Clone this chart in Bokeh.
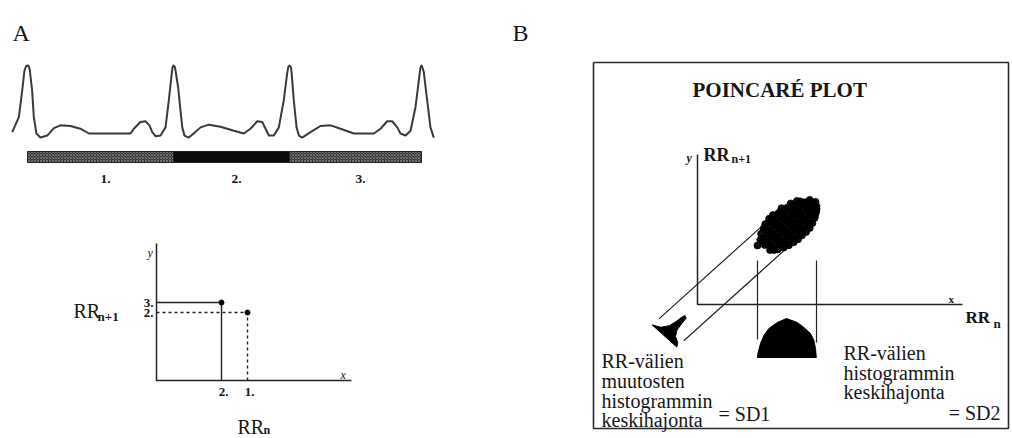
import math
from bokeh.plotting import figure
from bokeh.models import Range1d
from bokeh.core.properties import value
from bokeh.embed import file_html
from bokeh.resources import INLINE

# ------------------------------------------------------------------ data
# Panel A: ECG trace (time in ms from first R peak, amplitude in mV)
ecg_t_ms = [-92, -52, -32, -18, -8, 0, 8, 14, 28, 38, 54, 78, 119, 159, 199, 259, 319, 370,
            621, 641, 681, 711, 735, 752, 772, 802, 832, 852, 868, 874, 880,
            888, 892, 908, 922, 933, 946, 972, 1002, 1043, 1093, 1163, 1244, 1304,
            1344, 1385, 1415, 1435, 1455, 1485, 1515, 1545, 1565, 1572, 1580,
            1588, 1592, 1605, 1622, 1636, 1656, 1706, 1766, 1827, 1887, 1967, 2088,
            2128, 2168, 2198, 2229, 2248, 2279, 2309, 2339, 2359, 2368, 2375,
            2382, 2389, 2409, 2429, 2449]
ecg_mv = [0.02, 0.24, 0.63, 0.93, 0.99, 1.0, 0.99, 0.93, 0.63, 0.24, 0.0, -0.06, -0.03, 0.08, 0.12, 0.11, 0.07, 0.0,
          0.0, 0.07, 0.17, 0.18, 0.12, 0.02, -0.04, -0.03, 0.09, 0.49, 0.85, 0.97, 1.0,
          0.98, 0.93, 0.68, 0.34, 0.09, -0.03, -0.06, 0.0, 0.09, 0.13, 0.10, 0.04, 0.0,
          0.07, 0.18, 0.17, 0.07, -0.03, -0.03, 0.09, 0.49, 0.88, 0.98, 1.0,
          0.97, 0.90, 0.49, 0.09, -0.03, -0.06, 0.02, 0.11, 0.12, 0.07, 0.0, 0.0,
          0.07, 0.18, 0.18, 0.09, 0.0, -0.03, 0.04, 0.39, 0.78, 0.96, 1.0,
          0.96, 0.90, 0.49, 0.09, -0.06]
r_peaks_ms = [0, 880, 1580, 2375]
interval_labels = ["1.", "2.", "3."]

# Panel B: Poincaré cloud (RR_n, RR_n+1) in ms
cloud_rr_n = [700, 763, 736, 714, 801, 776, 758, 735, 718, 831, 809, 793, 770, 752, 731,
              857, 836, 820, 797, 779, 761, 739, 881, 860, 845, 823, 805, 789, 767, 758,
              903, 882, 868, 846, 829, 812, 791, 777, 922, 911, 897, 876, 859, 842, 820, 804,
              943, 922, 908, 886, 869, 852, 831, 820, 961, 940, 925, 903, 886, 869, 848,
              974, 954, 939, 917, 900, 884, 866, 986, 965, 950, 928, 912, 897,
              993, 972, 958, 936, 995, 973, 961, 990,
              883, 864, 846, 828, 809, 790, 772,
              923, 904, 886, 868, 849, 830, 812,
              958, 939, 921, 902, 883, 864,
              988, 969, 951, 932, 913,
              836, 816, 796, 776, 756, 736,
              783, 763, 743, 723,
              995, 976, 956]
cloud_rr_n1 = [738, 713, 741, 769, 716, 736, 761, 780, 803, 726, 744, 768, 785, 807, 831,
               739, 756, 780, 797, 819, 841, 857, 756, 772, 795, 811, 833, 854, 869, 886,
               773, 790, 813, 828, 849, 870, 886, 907, 794, 801, 823, 839, 859, 880, 895, 916,
               813, 830, 853, 868, 889, 910, 926, 945, 835, 852, 875, 891, 912, 933, 948,
               862, 879, 901, 917, 938, 959, 971, 891, 907, 930, 946, 967, 985,
               923, 940, 963, 978, 955, 973, 991, 980,
               773, 792, 810, 828, 847, 866, 884,
               813, 832, 850, 868, 887, 905, 924,
               858, 877, 896, 914, 933, 952,
               908, 927, 946, 964, 983,
               741, 760, 780, 800, 820, 840,
               713, 733, 753, 773,
               941, 960, 980]
# SD1 histogram (differences RR_n+1 - RR_n, ms) and SD2 histogram (RR_n, ms)
sd1_delta_ms = [123, 67, 33, 22, 19, 12, -9, -17, -29, -58, -103, -123]
sd1_count = [0, 4, 11, 19, 25, 29, 28, 21, 13, 7, 4, 0]
sd2_rr_ms = [700, 702, 715, 732, 757, 799, 845, 899, 932, 965, 982, 990, 994]
sd2_count = [0, 4, 14, 22, 29, 35, 39, 35, 30, 24, 17, 9, 0]

left_text = ["RR-välien", "muutosten", "histogrammin", "keskihajonta"]
right_text = ["RR-välien", "histogrammin", "keskihajonta"]

# ------------------------------------------------------------------ layout
W, H = 1012, 438
X0, Y0 = 0, 0
INK = "#161616"
SERIF = value("Liberation Serif")


class Lin:
    def __init__(self, d0, p0, d1, p1):
        self.d0, self.p0 = d0, p0
        self.k = (p1 - p0) / (d1 - d0)

    def fwd(self, d):
        return self.p0 + self.k * (d - self.d0)

    def inv(self, px):
        return self.d0 + (px - self.p0) / self.k


def xr(m):
    return Range1d(start=m.inv(X0), end=m.inv(X0 + W))


def yr(m):
    return Range1d(start=m.inv(Y0 + H), end=m.inv(Y0))


ecg_x = Lin(0, 27, 2375, 421)
ecg_y = Lin(0, 133, 1, 65)
pa_x = Lin(700, 221, 880, 247)
pa_y = Lin(700, 312, 795, 302)
pb_x = Lin(400, 697, 1000, 817)
pb_y = Lin(0, 377.8, 1000, 197.8)
hist_y = Lin(0, 357, 39, 318)

p = figure(width=W, height=H, x_range=Range1d(X0, X0 + W), y_range=Range1d(Y0 + H, Y0),
           output_backend="svg", toolbar_location=None, min_border=0,
           x_axis_location=None, y_axis_location=None)
p.outline_line_color = None
p.xgrid.visible = False
p.ygrid.visible = False
p.background_fill_color = "white"
p.border_fill_color = "white"
p.extra_x_ranges = {"ecg": xr(ecg_x), "pa": xr(pa_x), "pb": xr(pb_x)}
p.extra_y_ranges = {"ecg": yr(ecg_y), "pa": yr(pa_y), "pb": yr(pb_y), "hist": yr(hist_y)}


def txt(x, y, s, size, style="normal", align="left", baseline="alphabetic",
        xrn="default", yrn="default", x_offset=0, color=INK):
    p.text(x=[x], y=[y], text=[s], text_font=SERIF, text_font_size=value(f"{size}px"),
           text_font_style=style, text_align=align, text_baseline=baseline,
           text_color=color, x_offset=x_offset, x_range_name=xrn, y_range_name=yrn)


# ------------------------------------------------------------------ panel labels
txt(12, 32, "A", 24)
txt(512, 32, "B", 24)

# ------------------------------------------------------------------ ECG
p.line(x=ecg_t_ms, y=ecg_mv, x_range_name="ecg", y_range_name="ecg",
       line_color="#3a3a3a", line_width=2, line_join="round")
rr = [r_peaks_ms[i + 1] - r_peaks_ms[i] for i in range(len(r_peaks_ms) - 1)]
lefts, rights = r_peaks_ms[:-1], r_peaks_ms[1:]
for i in range(len(rr)):
    dark = (i == 1)
    p.quad(left=[lefts[i]], right=[rights[i]], top=[151], bottom=[162], x_range_name="ecg",
           fill_color="#0c0c0c" if dark else "#333333",
           hatch_pattern=" " if dark else "x", hatch_color="#8a8a8a", hatch_scale=3,
           hatch_weight=0.7, line_color="#222222", line_width=1)
    txt((lefts[i] + rights[i]) / 2, 178, interval_labels[i], 13.5, style="bold",
        align="center", xrn="ecg", x_offset=5)

# ------------------------------------------------------------------ Poincaré, panel A
p.line(x=[156, 156, 351], y=[243, 380, 380], line_color="#222222", line_width=1.5)
ax0, ay0 = pa_x.inv(156), pa_y.inv(380)
pairs = [(rr[i], rr[i + 1], interval_labels[i], interval_labels[i + 1]) for i in range(len(rr) - 1)]
for j, (xn, yn, lx, ly) in enumerate(pairs):
    dash = "3 3" if j == 0 else "solid"
    p.line(x=[ax0, xn, xn], y=[yn, yn, ay0], x_range_name="pa", y_range_name="pa",
           line_color="#222222", line_width=1.4, line_dash=dash)
    p.scatter(x=[xn], y=[yn], x_range_name="pa", y_range_name="pa", marker="circle",
              size=5, fill_color="black", line_color="black")
    txt(xn, 391, lx, 13, style="bold", align="center", baseline="middle", xrn="pa", x_offset=2)
    txt(153, yn, ly, 13, style="bold", align="right", baseline="middle", yrn="pa")
txt(147, 252, "y", 12, style="italic")
txt(340, 374, "x", 12, style="italic")
txt(73, 310, "RR", 20)
txt(97, 316, "n+1", 13, style="bold")
txt(237, 426, "RR", 20)
txt(263, 429, "n", 12, style="bold")

# ------------------------------------------------------------------ panel B
p.line(x=[593, 1008, 1008, 593, 593], y=[62, 62, 428, 428, 62], line_color="#2a2a2a", line_width=1.6)
txt(692, 89, "POINCARÉ PLOT", 21, style="bold")

# axes
p.line(x=[697, 697, 962], y=[154, 304, 304], line_color="#222222", line_width=1.5)
txt(686, 157, "y", 12, style="bold italic")
txt(703, 154, "RR", 18, style="bold")
txt(731, 158, "n+1", 12, style="bold")
txt(948, 298, "x", 11, style="bold")
txt(965, 317, "RR", 17, style="bold")
txt(993, 323, "n", 13, style="bold")

# band lines (parallel to the line of identity)
band_half = 123
for s_end, sign in ((795, 1), (805, -1)):
    s0 = 270
    p.line(x=[s0 - sign * band_half / 2, s_end - sign * band_half / 2],
           y=[s0 + sign * band_half / 2, s_end + sign * band_half / 2],
           x_range_name="pb", y_range_name="pb", line_color="#222222", line_width=1.2)

# cloud
p.scatter(x=cloud_rr_n, y=cloud_rr_n1, x_range_name="pb", y_range_name="pb", marker="circle",
          size=7, fill_color="black", fill_alpha=0.95, line_color="black", line_width=0.8)

# SD2 guide lines and histogram
xmin, xmax = min(cloud_rr_n), max(cloud_rr_n)
p.segment(x0=[xmin, xmax], y0=[260, 260], x1=[xmin, xmax], y1=[339, 342], x_range_name="pb",
          line_color="#222222", line_width=1.2)
p.patch(x=sd2_rr_ms, y=sd2_count, x_range_name="pb", y_range_name="hist",
        fill_color="black", line_color="black", line_width=1)

# SD1 histogram drawn across the band, peak pointing along the identity line
s_base = 235
dx, dy = pb_x.k, pb_y.k
nrm = math.hypot(dx, dy)
ux, uy = dx / nrm, dy / nrm
fx, fy = [], []
for dlt, c in zip(sd1_delta_ms, sd1_count):
    bxp = pb_x.fwd(s_base - dlt / 2)
    byp = pb_y.fwd(s_base + dlt / 2)
    fx.append(bxp + c * ux)
    fy.append(byp + c * uy)
p.patch(x=fx, y=fy, fill_color="black", line_color="black", line_width=1)

# text blocks
for i, s in enumerate(left_text):
    txt(601, [360, 380, 400, 419][i], s, 20)
txt(718, 413, "= SD1", 20)
for i, s in enumerate(right_text):
    txt(843, [352, 372, 391][i], s, 20)
txt(1000, 412, "= SD2", 20, align="right")

open("out.html", "w", encoding="utf-8").write(file_html(p, INLINE))
